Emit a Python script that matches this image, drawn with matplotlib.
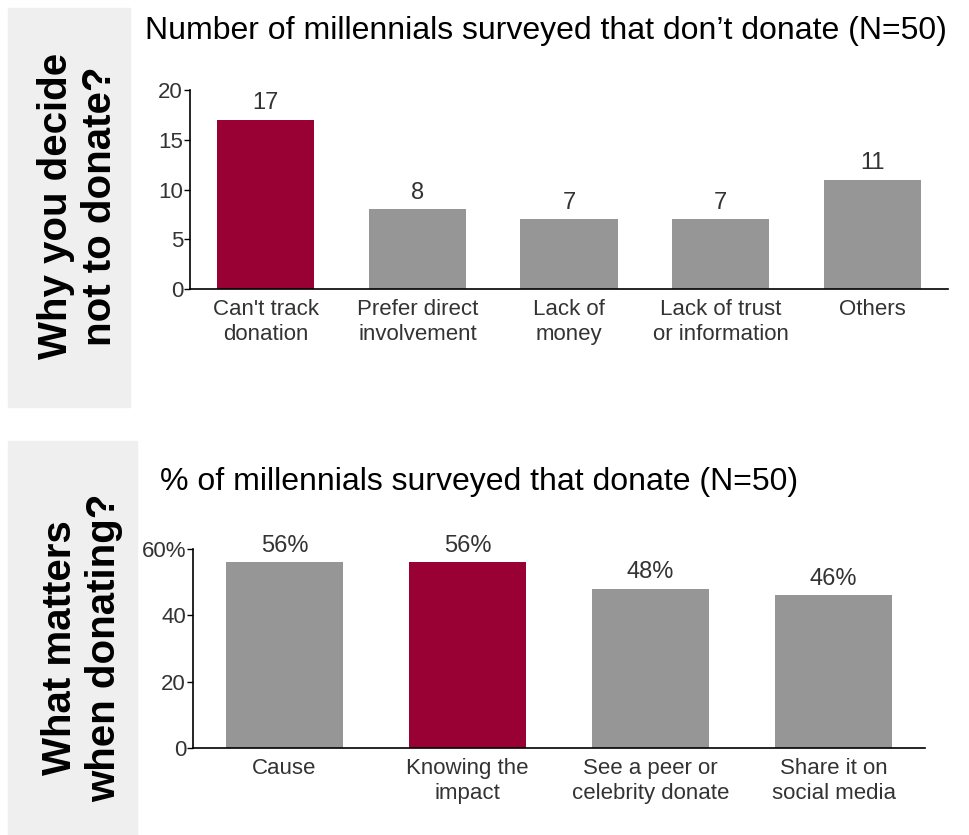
import matplotlib.pyplot as plt
from matplotlib.patches import Rectangle

plt.rcParams['font.family'] = ['Liberation Sans', 'DejaVu Sans']

# Why millennials don't donate (counts)
reasons = ["Can't track\ndonation", "Prefer direct\ninvolvement", "Lack of\nmoney",
           "Lack of trust\nor information", "Others"]
reason_counts = [17, 8, 7, 7, 11]
reason_highlight = 0

# What matters when donating (% of respondents)
factors = ["Cause", "Knowing the\nimpact", "See a peer or\ncelebrity donate",
           "Share it on\nsocial media"]
factor_pcts = [56, 56, 48, 46]
factor_highlight = 1

top_title = "Number of millennials surveyed that don\u2019t donate (N=50)"
bottom_title = "% of millennials surveyed that donate (N=50)"
top_side = "Why you decide\nnot to donate?"
bottom_side = "What matters\nwhen donating?"

RED = "#990033"
GREY = "#969696"
BOX = "#efefef"
TXT = "#333333"

W, H = 969, 835
fig = plt.figure(figsize=(W / 100, H / 100), dpi=100)


def px(x0, y0, x1, y1):
    # pixel box (top-left origin) -> figure fraction rect
    return [x0 / W, 1 - y1 / H, (x1 - x0) / W, (y1 - y0) / H]


def side_label(rect, text, cx, cy):
    fig.patches.append(Rectangle((rect[0], rect[1]), rect[2], rect[3],
                                 transform=fig.transFigure, color=BOX, zorder=0))
    fig.text(cx / W, 1 - cy / H, text, rotation=90,
             ha='center', va='center', fontsize=29, fontweight='bold',
             linespacing=1.2, color='black', multialignment='center')


def bar_panel(rect, labels, values, hi, ymax, step, fmt, pct_top):
    ax = fig.add_axes(rect)
    colors = [RED if i == hi else GREY for i in range(len(values))]
    xs = range(len(values))
    ax.bar(xs, values, width=0.64, color=colors, zorder=2)
    ax.set_xlim(-0.5, len(values) - 0.5)
    ax.set_ylim(0, ymax)
    ax.set_xticks(list(xs))
    ax.set_xticklabels(labels, fontsize=16, color=TXT, linespacing=1.25)
    ax.tick_params(axis='x', length=0, pad=7)
    ticks = list(range(0, ymax + 1, step))
    ax.set_yticks(ticks)
    tl = [str(t) for t in ticks]
    if pct_top:
        tl[-1] = tl[-1] + "%"
    ax.set_yticklabels(tl, fontsize=16, color=TXT)
    ax.tick_params(axis='y', length=4, width=1, pad=1, direction='out')
    for s in ('top', 'right'):
        ax.spines[s].set_visible(False)
    for s in ('left', 'bottom'):
        ax.spines[s].set_linewidth(1.2)
    for x, v in zip(xs, values):
        ax.annotate(fmt.format(v), (x, v), xytext=(0, 4), textcoords='offset points',
                    ha='center', va='bottom', fontsize=17, color=TXT)
    return ax


# top panel
side_label(px(8, 8, 130, 407), top_side, 78, 206)
fig.text(145 / W, 1 - 31 / H, top_title, ha='left', va='center', fontsize=23, color='black')
bar_panel(px(190, 90, 948, 289), reasons, reason_counts, reason_highlight, 20, 5, "{}", False)

# bottom panel
side_label(px(8, 441, 137, 835), bottom_side, 82, 648)
fig.text(160 / W, 1 - 482 / H, bottom_title, ha='left', va='center', fontsize=23, color='black')
bar_panel(px(193, 549, 925, 748), factors, factor_pcts, factor_highlight, 60, 20, "{}%", True)

fig.savefig("out.png", dpi=100, facecolor='white')
